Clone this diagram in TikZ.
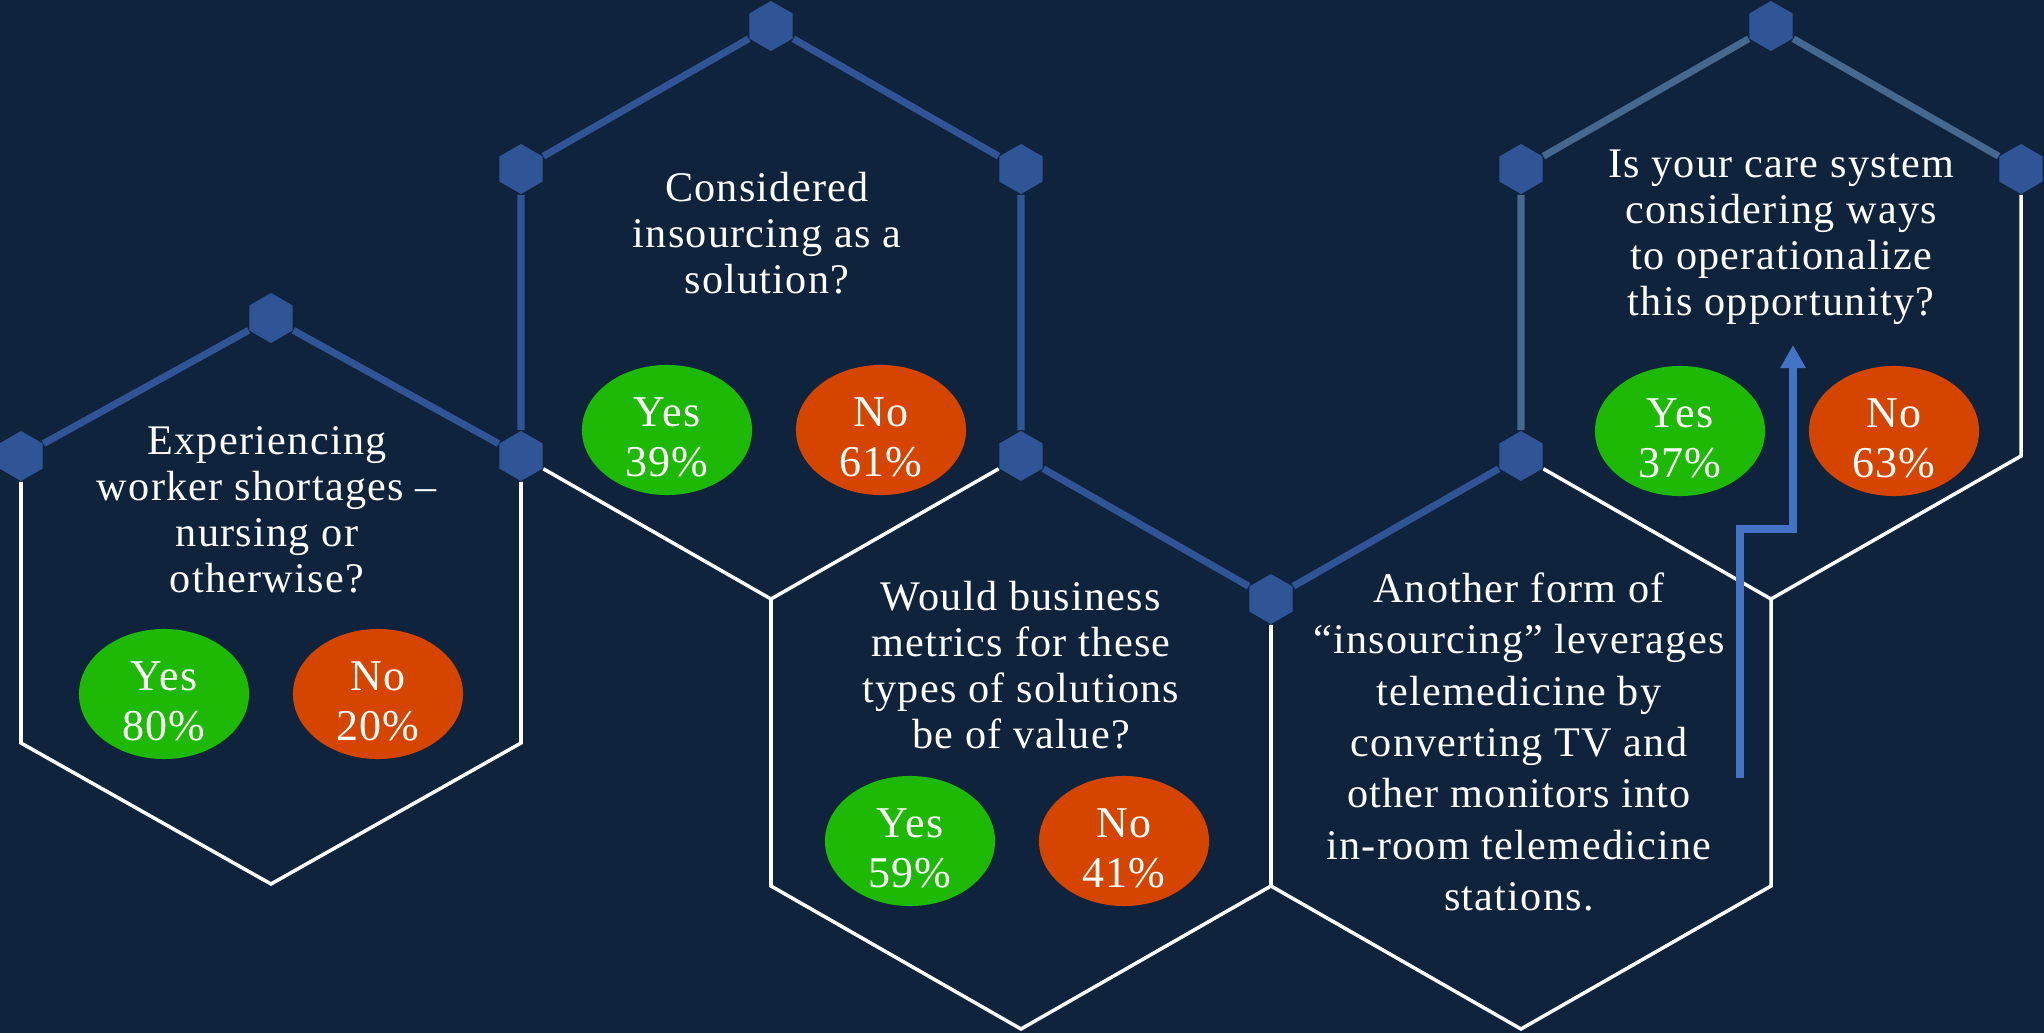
\documentclass[tikz,border=0pt]{standalone}
\usepackage{fontspec}
\setmainfont{Liberation Serif}[LetterSpace=3]
\usepackage{tikz}
\usetikzlibrary{shapes.geometric, arrows.meta, positioning}
\definecolor{colorBack}{RGB}{16, 35, 60}
\definecolor{colorJoint}{RGB}{47, 85, 151}
\definecolor{colorPale}{RGB}{68, 104, 142}
\definecolor{colorArrow}{RGB}{68, 114, 196}
\definecolor{colorYes}{RGB}{30, 185, 5}
\definecolor{colorNo}{RGB}{214, 69, 0}
\tikzstyle{joint} = [regular polygon, regular polygon sides=6, shape border rotate=30, minimum size=5mm, inner sep=0pt, fill=colorJoint]
\tikzstyle{linkBlue} = [draw=colorJoint, line width=2pt]
\tikzstyle{linkPale} = [draw=colorPale, line width=2pt]
\tikzstyle{edgeWhite} = [draw=white, line width=1pt]
\tikzstyle{question} = [align=center, text=white, font=\fontsize{12}{13.1}\selectfont]
\tikzstyle{vote} = [ellipse, minimum width=17mm, minimum height=13mm, inner sep=0pt]
\tikzstyle{voteText} = [align=center, text=white, yshift=-0.7mm, font=\fontsize{12.5}{14.2}\selectfont]
\tikzstyle{voteYes} = [vote, fill=colorYes]
\tikzstyle{voteNo} = [vote, fill=colorNo]
\tikzstyle{arrowUp} = [draw=colorArrow, line width=2.3pt, -{Triangle[width=2.4mm, length=2.3mm]}]

\begin{document}
\begin{tikzpicture}[x=0.01cm, y=-0.01cm]

		% background
		\fill[colorBack] (0,0) rectangle (2044,1033);
		\useasboundingbox (0,0) rectangle (2044,1033);

		% joints
		\node (jShortTop)[joint] at (271,318) {};
		\node (jShortLeft)[joint] at (21,456) {};
		\node (jShortRight)[joint] at (521,456) {};
		\node (jInsLeft)[joint] at (521,169) {};
		\node (jInsTop)[joint] at (771,26) {};
		\node (jInsRight)[joint] at (1021,169) {};
		\node (jMetTop)[joint] at (1021,456) {};
		\node (jMetRight)[joint] at (1271,599) {};
		\node (jTeleTop)[joint] at (1521,456) {};
		\node (jOpLeft)[joint] at (1521,169) {};
		\node (jOpTop)[joint] at (1771,26) {};
		\node (jOpRight)[joint] at (2021,169) {};

		% plain corners
		\coordinate (cShortLL) at (21,743);
		\coordinate (cShortLR) at (521,743);
		\coordinate (cShortBot) at (271,884);
		\coordinate (cInsBot) at (771,599);
		\coordinate (cMetLL) at (771,886);
		\coordinate (cMetBot) at (1021,1029);
		\coordinate (cMetLR) at (1271,886);
		\coordinate (cTeleRight) at (1771,599);
		\coordinate (cTeleLR) at (1771,886);
		\coordinate (cTeleBot) at (1521,1029);
		\coordinate (cOpLR) at (2021,456);

		% blue links
		\draw[linkBlue] (jShortLeft) -- (jShortTop) -- (jShortRight);
		\draw[linkBlue] (jShortRight) -- (jInsLeft) -- (jInsTop) -- (jInsRight) -- (jMetTop);
		\draw[linkBlue] (jMetTop) -- (jMetRight) -- (jTeleTop);
		\draw[linkPale] (jTeleTop) -- (jOpLeft) -- (jOpTop) -- (jOpRight);

		% white edges
		\draw[edgeWhite] (jShortLeft) -- (cShortLL) -- (cShortBot) -- (cShortLR) -- (jShortRight);
		\draw[edgeWhite] (jShortRight) -- (cInsBot) -- (jMetTop);
		\draw[edgeWhite] (cInsBot) -- (cMetLL) -- (cMetBot) -- (cMetLR) -- (jMetRight);
		\draw[edgeWhite] (jTeleTop) -- (cTeleRight) -- (cTeleLR) -- (cTeleBot) -- (cMetLR);
		\draw[edgeWhite] (jOpRight) -- (cOpLR) -- (cTeleRight);

		% questions
		\node (qShortage)[question] at (267,510) {Experiencing\\worker shortages --\\nursing or\\otherwise?};
		\node (qInsourcing)[question] at (767,233) {Considered\\insourcing as a\\solution?};
		\node (qMetrics)[question] at (1021,665) {Would business\\metrics for these\\types of solutions\\be of value?};
		\node (qTelemed)[question, font=\fontsize{12}{14.6}\selectfont] at (1519,742) {Another form of\\“insourcing” leverages\\telemedicine by\\converting TV and\\other monitors into\\in-room telemedicine\\stations.};
		\node (qOperate)[question] at (1781,237) {Is your care system\\considering ways\\to operationalize\\this opportunity?};

		% votes
		\node (yesShortage)[voteYes, label={[voteText]center:Yes\\80\%}] at (164,694) {};
		\node (noShortage)[voteNo, label={[voteText]center:No\\20\%}] at (378,694) {};
		\node (yesInsourcing)[voteYes, label={[voteText]center:Yes\\39\%}] at (667,430) {};
		\node (noInsourcing)[voteNo, label={[voteText]center:No\\61\%}] at (881,430) {};
		\node (yesMetrics)[voteYes, label={[voteText]center:Yes\\59\%}] at (910,841) {};
		\node (noMetrics)[voteNo, label={[voteText]center:No\\41\%}] at (1124,841) {};
		\node (yesOperate)[voteYes, label={[voteText]center:Yes\\37\%}] at (1680,431) {};
		\node (noOperate)[voteNo, label={[voteText]center:No\\63\%}] at (1894,431) {};

		% step arrow
		\coordinate (arrowStart) at (1740,778);
		\coordinate (arrowKnee) at (1793,529);
		\coordinate (arrowTip) at (1793,345);
		\draw[arrowUp] (arrowStart) |- (arrowKnee) -- (arrowTip);

	\end{tikzpicture}
\end{document}
